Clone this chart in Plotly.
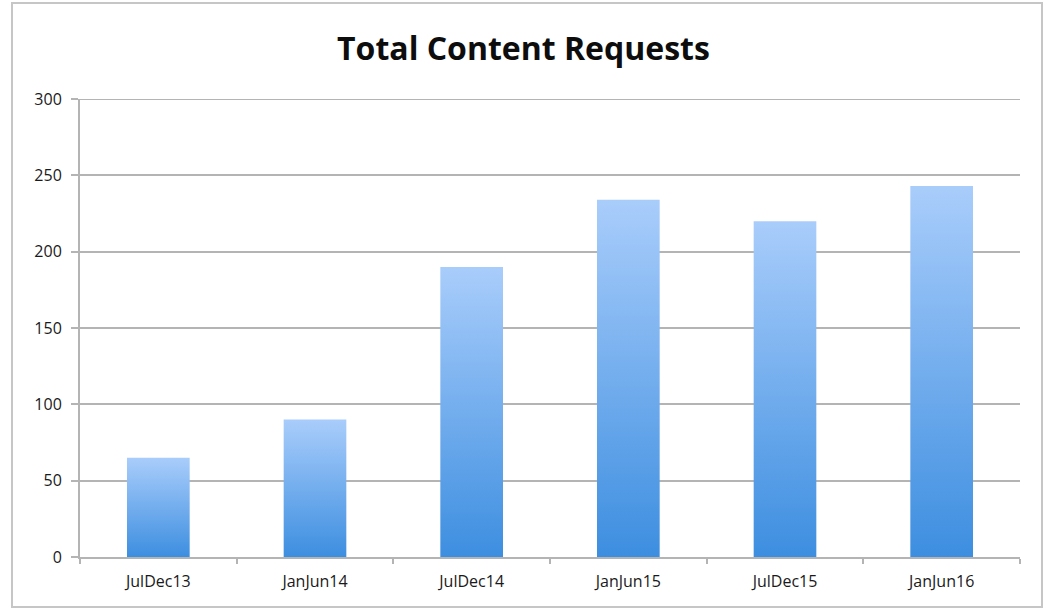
import plotly.graph_objects as go

# Half-year periods and the number of content requests in each
periods = ["JulDec13", "JanJun14", "JulDec14", "JanJun15", "JulDec15", "JanJun16"]
requests = [65, 90, 190, 234, 220, 243]
y_ticks = [0, 50, 100, 150, 200, 250, 300]

W, H = 1047, 609
M_L, M_R, M_T, M_B = 80, 27, 99, 52
plot_w = W - M_L - M_R
plot_h = H - M_T - M_B

fig = go.Figure(
    go.Bar(
        x=periods,
        y=requests,
        marker=dict(color="#6aa8ec", line=dict(width=0)),
        hoverinfo="skip",
    )
)

grid = "#b4b4b4"
font = "'Open Sans', Lato, sans-serif"
ink = "#1a1a1a"

fig.update_layout(
    width=W,
    height=H,
    margin=dict(l=M_L, r=M_R, t=M_T, b=M_B),
    paper_bgcolor="white",
    plot_bgcolor="white",
    bargap=0.6,
    showlegend=False,
    title=dict(
        text="<b>Total Content Requests</b>",
        x=0.5,
        xanchor="center",
        y=1 - 49 / H,
        yanchor="middle",
        font=dict(family=font, size=32, color="#0d0d0d"),
    ),
    font=dict(family=font, size=16, color=ink),
)

fig.update_xaxes(
    type="category",
    showgrid=False,
    showline=True,
    linecolor=grid,
    linewidth=2,
    ticks="outside",
    tickson="boundaries",
    ticklen=5,
    tickcolor=grid,
    tickwidth=1.5,
    ticklabelstandoff=9,
    tickfont=dict(family=font, size=16, color=ink),
    zeroline=False,
)

fig.update_yaxes(
    range=[0, 300],
    tickvals=y_ticks,
    showgrid=True,
    gridcolor=grid,
    gridwidth=2,
    showline=True,
    linecolor=grid,
    linewidth=2,
    ticks="outside",
    ticklen=7,
    tickcolor=grid,
    tickwidth=2,
    ticklabelstandoff=6,
    tickfont=dict(family=font, size=16, color=ink),
    zeroline=False,
)

# Top gridline at the end of the value range
fig.add_shape(
    type="line",
    xref="paper",
    yref="y",
    x0=-7 / plot_w,
    x1=1,
    y0=y_ticks[-1],
    y1=y_ticks[-1],
    line=dict(color=grid, width=2),
    layer="below",
)

# Light frame around the whole chart
fig.add_shape(
    type="rect",
    xref="paper",
    yref="paper",
    x0=(12 - M_L) / plot_w,
    x1=(1042 - M_L) / plot_w,
    y0=(H - M_B - 607) / plot_h,
    y1=(H - M_B - 3) / plot_h,
    line=dict(color="#c6c6c6", width=2),
    fillcolor="rgba(0,0,0,0)",
    layer="below",
)

# Vertical light-to-dark fill on every bar
post = """
var gd = document.getElementById('{plot_id}');
function paintBars() {
  var svg = gd.querySelector('svg.main-svg');
  if (!svg) return;
  var ns = 'http://www.w3.org/2000/svg';
  var defs = svg.querySelector('defs');
  if (!defs) { defs = document.createElementNS(ns, 'defs'); svg.insertBefore(defs, svg.firstChild); }
  if (!document.getElementById('barfade')) {
    var g = document.createElementNS(ns, 'linearGradient');
    g.setAttribute('id', 'barfade');
    g.setAttribute('x1', '0'); g.setAttribute('y1', '0');
    g.setAttribute('x2', '0'); g.setAttribute('y2', '1');
    [['0', '#a9cdfb'], ['1', '#3d8ee0']].forEach(function (s) {
      var st = document.createElementNS(ns, 'stop');
      st.setAttribute('offset', s[0]);
      st.setAttribute('stop-color', s[1]);
      g.appendChild(st);
    });
    defs.appendChild(g);
  }
  gd.querySelectorAll('.bars .point path').forEach(function (p) {
    p.style.fill = 'url(#barfade)';
  });
}
paintBars();
gd.on('plotly_afterplot', paintBars);
"""

fig.write_html("out.html", post_script=post, config={"displayModeBar": False})
